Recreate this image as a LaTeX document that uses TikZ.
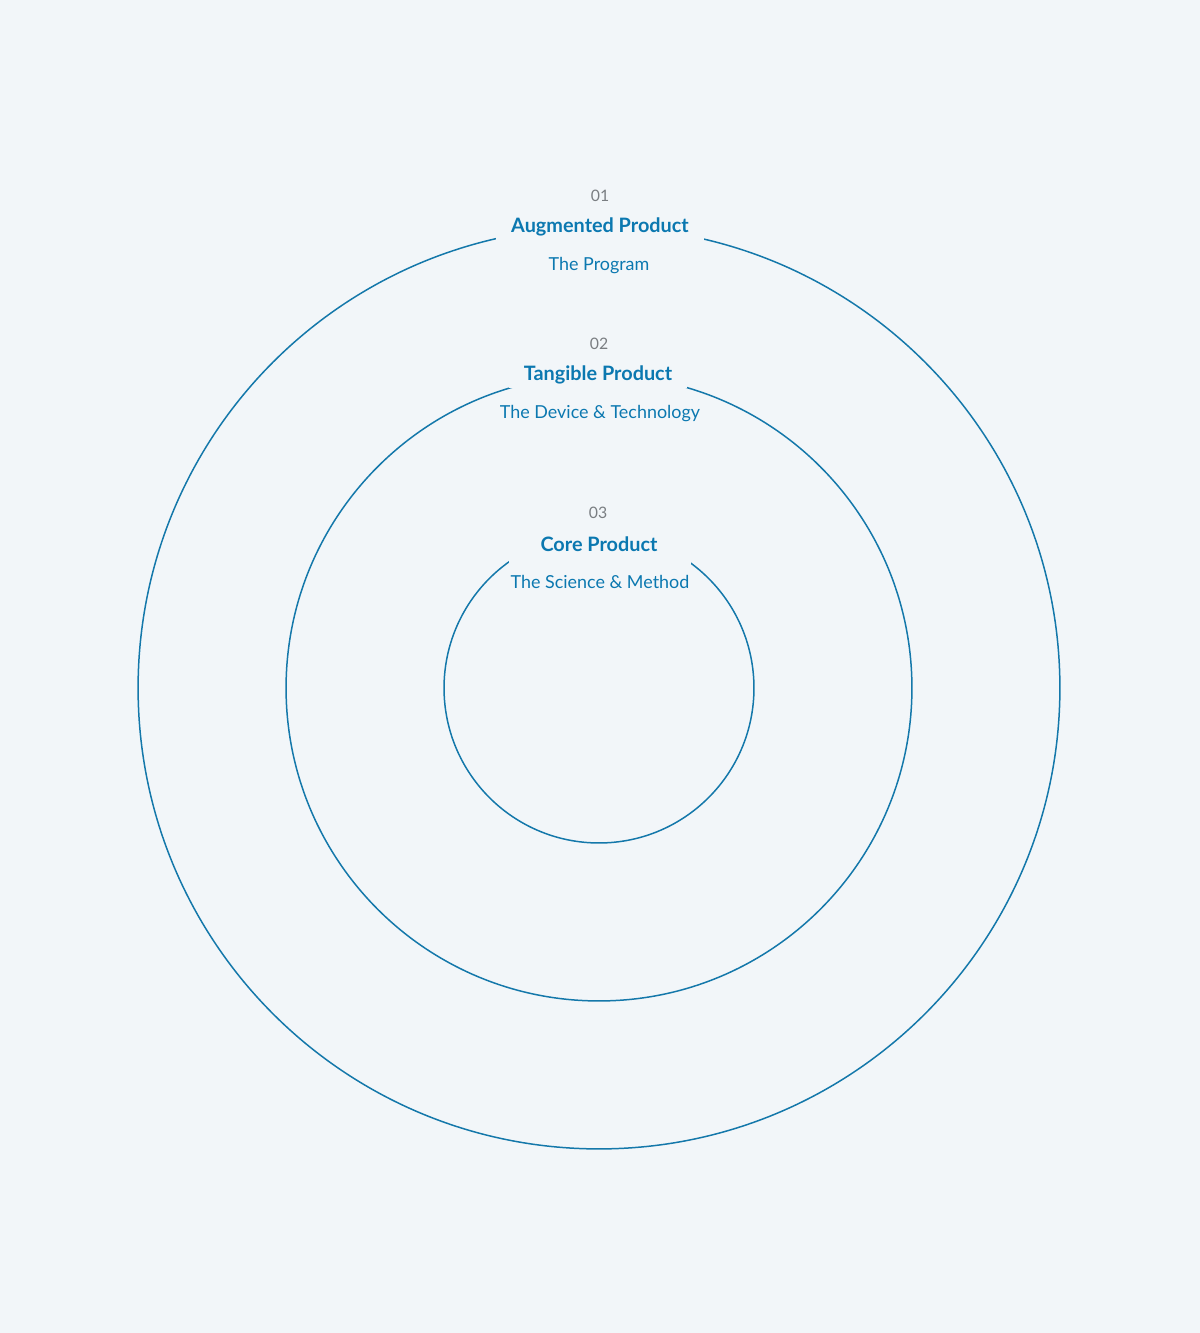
\documentclass[tikz,border=0pt]{standalone}
\usepackage{fontspec}
\setmainfont{Lato}
\usepackage{tikz}
\usetikzlibrary{positioning}

\definecolor{pagebg}{HTML}{F2F6F9}
\definecolor{ringblue}{HTML}{1478AA}
\definecolor{textblue}{HTML}{0B78B0}
\definecolor{numgrey}{HTML}{7A7E82}

\begin{document}
\begin{tikzpicture}[
    x=0.02cm,y=-0.02cm,
    ring/.style={draw=ringblue, line width=0.85pt, circle, inner sep=0pt},
    title/.style={fill=pagebg, text=textblue, font=\bfseries\fontsize{11.3}{13}\selectfont,
                  inner xsep=0.3cm, inner ysep=0pt, minimum height=0.52cm},
    sub/.style={fill=pagebg, text=textblue, font=\fontsize{10.2}{12}\selectfont,
                inner xsep=1pt, inner ysep=0pt, minimum height=0.8cm},
    num/.style={text=numgrey, font=\fontsize{9}{10}\selectfont, inner sep=1pt}
]
% Page
\fill[pagebg] (0,0) rectangle (1200,1333);
\useasboundingbox (0,0) rectangle (1200,1333);

% Rings
\node[ring, minimum size=18.44cm] (outer) at (599,688) {};
\node[ring, minimum size=12.52cm] (middle) at (599,688) {};
\node[ring, minimum size=6.20cm] (inner) at (599,688) {};

% Labels of the outer ring
\node[num] (num01) at (600,196) {01};
\node[title] (augmented) at (600,227) {Augmented Product};
\node[sub] (program) at (599,266) {The Program};

% Labels of the middle ring
\node[num] (num02) at (599,344) {02};
\node[title] (tangible) at (598,375) {Tangible Product};
\node[sub] (device) at (600,414) {The Device \& Technology};

% Labels of the inner ring
\node[num] (num03) at (598,513) {03};
\node[title, minimum width=3.6cm] (core) at (599,544) {Core Product};
\node[sub, minimum height=1cm] (science) at (600,582) {The Science \& Method};
\end{tikzpicture}
\end{document}
